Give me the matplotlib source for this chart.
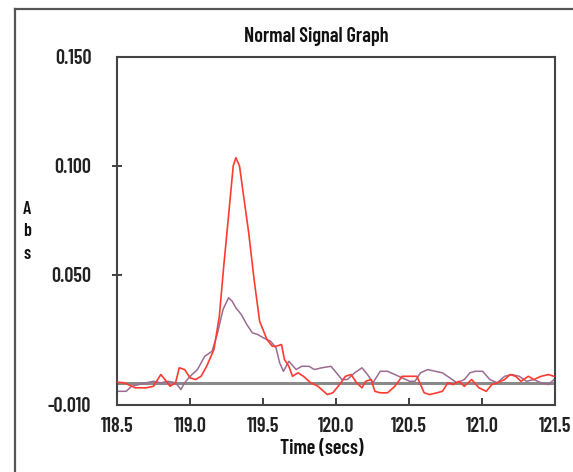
import matplotlib
matplotlib.use("Agg")
import matplotlib.pyplot as plt
from matplotlib.lines import Line2D

# Red trace (time in secs, absorbance)
red_t = [118.500, 118.550, 118.625, 118.700, 118.750, 118.800, 118.838, 118.863, 118.901,
         118.926, 118.963, 119.001, 119.038, 119.076, 119.114, 119.164, 119.201, 119.231,
         119.264, 119.296, 119.314, 119.339, 119.364, 119.402, 119.439, 119.477, 119.527,
         119.564, 119.589, 119.627, 119.647, 119.677, 119.702, 119.740, 119.777, 119.827,
         119.877, 119.940, 119.978, 120.015, 120.065, 120.103, 120.141, 120.178, 120.203,
         120.241, 120.266, 120.303, 120.353, 120.403, 120.453, 120.504, 120.554, 120.604,
         120.641, 120.691, 120.729, 120.766, 120.804, 120.842, 120.879, 120.929, 120.979,
         121.029, 121.067, 121.105, 121.155, 121.192, 121.230, 121.267, 121.317, 121.355,
         121.405, 121.455, 121.493]
red_abs = [0.0005, 0.0002, -0.0021, -0.0021, -0.0014, 0.0040, 0.0009, -0.0014, 0.0002,
           0.0071, 0.0063, 0.0025, 0.0017, 0.0032, 0.0078, 0.0155, 0.0308, 0.0538,
           0.0769, 0.0999, 0.1037, 0.0999, 0.0876, 0.0692, 0.0477, 0.0285, 0.0201,
           0.0170, 0.0170, 0.0178, 0.0109, 0.0078, 0.0032, 0.0048, 0.0032, 0.0002,
           -0.0014, -0.0052, -0.0044, -0.0014, 0.0032, 0.0040, 0.0002, -0.0021, 0.0009,
           0.0017, -0.0037, -0.0044, -0.0044, -0.0014, 0.0032, 0.0032, 0.0032, -0.0044,
           -0.0052, -0.0044, -0.0037, 0.0002, -0.0006, 0.0009, -0.0014, 0.0017, -0.0021,
           -0.0037, -0.0006, 0.0002, 0.0017, 0.0040, 0.0032, 0.0009, 0.0032, 0.0017,
           0.0032, 0.0040, 0.0032]

# Purple trace
pur_t = [118.500, 118.563, 118.600, 118.650, 118.700, 118.750, 118.800, 118.851, 118.901,
         118.938, 118.963, 119.001, 119.051, 119.101, 119.151, 119.189, 119.226, 119.264,
         119.289, 119.314, 119.351, 119.389, 119.427, 119.464, 119.502, 119.552, 119.589,
         119.614, 119.640, 119.677, 119.727, 119.765, 119.815, 119.852, 119.902, 119.965,
         120.003, 120.040, 120.078, 120.128, 120.178, 120.216, 120.253, 120.303, 120.353,
         120.403, 120.453, 120.504, 120.541, 120.579, 120.629, 120.679, 120.729, 120.779,
         120.829, 120.879, 120.917, 120.954, 121.004, 121.054, 121.105, 121.155, 121.205,
         121.255, 121.305, 121.355, 121.405, 121.455, 121.493]
pur_abs = [-0.0037, -0.0037, -0.0014, -0.0006, 0.0002, 0.0009, 0.0002, 0.0009, 0.0002,
           -0.0029, 0.0002, 0.0032, 0.0063, 0.0124, 0.0147, 0.0232, 0.0339, 0.0393,
           0.0377, 0.0347, 0.0316, 0.0270, 0.0232, 0.0224, 0.0209, 0.0193, 0.0163,
           0.0094, 0.0055, 0.0101, 0.0063, 0.0078, 0.0078, 0.0063, 0.0071, 0.0078,
           0.0048, 0.0017, 0.0017, 0.0048, 0.0071, 0.0040, 0.0002, 0.0055, 0.0055,
           0.0040, 0.0025, 0.0009, 0.0009, 0.0048, 0.0063, 0.0055, 0.0048, 0.0025,
           0.0002, 0.0017, 0.0048, 0.0055, 0.0055, 0.0017, 0.0002, 0.0032, 0.0040,
           0.0032, 0.0009, 0.0017, 0.0002, -0.0006, 0.0017]

x_ticks = [118.5, 119.0, 119.5, 120.0, 120.5, 121.0, 121.5]
y_ticks = [-0.010, 0.050, 0.100, 0.150]
y_labels = ["-0.010", "0.050", "0.100", "0.150"]

# condensed bold face, like the original
plt.rcParams["font.family"] = ["Barlow Condensed", "DejaVu Sans"]
plt.rcParams["font.weight"] = 600

W, H = 573, 472
fig = plt.figure(figsize=(W / 100, H / 100), dpi=100)
ax = fig.add_axes([117 / W, 1 - 405 / H, (555 - 117) / W, (405 - 57) / H])

ax.axhline(0, color="#8a8a8a", lw=2.2, zorder=1)
ax.plot(pur_t, pur_abs, color="#9c6b92", lw=1.1, zorder=2)
ax.plot(red_t, red_abs, color="#ff3b30", lw=1.2, zorder=3)

ax.set_xlim(118.5, 121.5)
ax.set_ylim(-0.010, 0.150)
ax.set_xticks(x_ticks)
ax.set_xticklabels([f"{v:.1f}" for v in x_ticks])
ax.set_yticks(y_ticks)
ax.set_yticklabels(y_labels)

for s in ax.spines.values():
    s.set_color("#444444")
    s.set_linewidth(1.5)
ax.tick_params(axis="y", direction="inout", length=7, width=1.3, color="#333333",
               pad=15, labelsize=14.5, labelcolor="#222222")
ax.tick_params(axis="x", direction="in", length=5, width=1.3, color="#333333",
               pad=9, labelsize=14.5, labelcolor="#222222")
# no tick marks on the corners
for t in (ax.yaxis.get_major_ticks()[0], ax.yaxis.get_major_ticks()[-1],
          ax.xaxis.get_major_ticks()[0], ax.xaxis.get_major_ticks()[-1]):
    t.tick1line.set_visible(False)

fig.text(316 / W, 1 - 37 / H, "Normal Signal Graph", ha="center", va="center",
         fontsize=14.5, color="#111111")
fig.text(322 / W, 1 - 448 / H, "Time (secs)", ha="center", va="center",
         fontsize=14.5, color="#111111")
fig.text(27 / W, 1 - 232 / H, "A\nb\ns", ha="center", va="center",
         fontsize=13, color="#111111", linespacing=1.4)

# outer frame (left and top edges)
fig.add_artist(Line2D([15 / W, 15 / W], [0, 1 - 9 / H], transform=fig.transFigure,
                      color="#555555", lw=1.6))
fig.add_artist(Line2D([15 / W, 1], [1 - 9 / H, 1 - 9 / H], transform=fig.transFigure,
                      color="#555555", lw=1.6))

fig.savefig("out.png", dpi=100)
